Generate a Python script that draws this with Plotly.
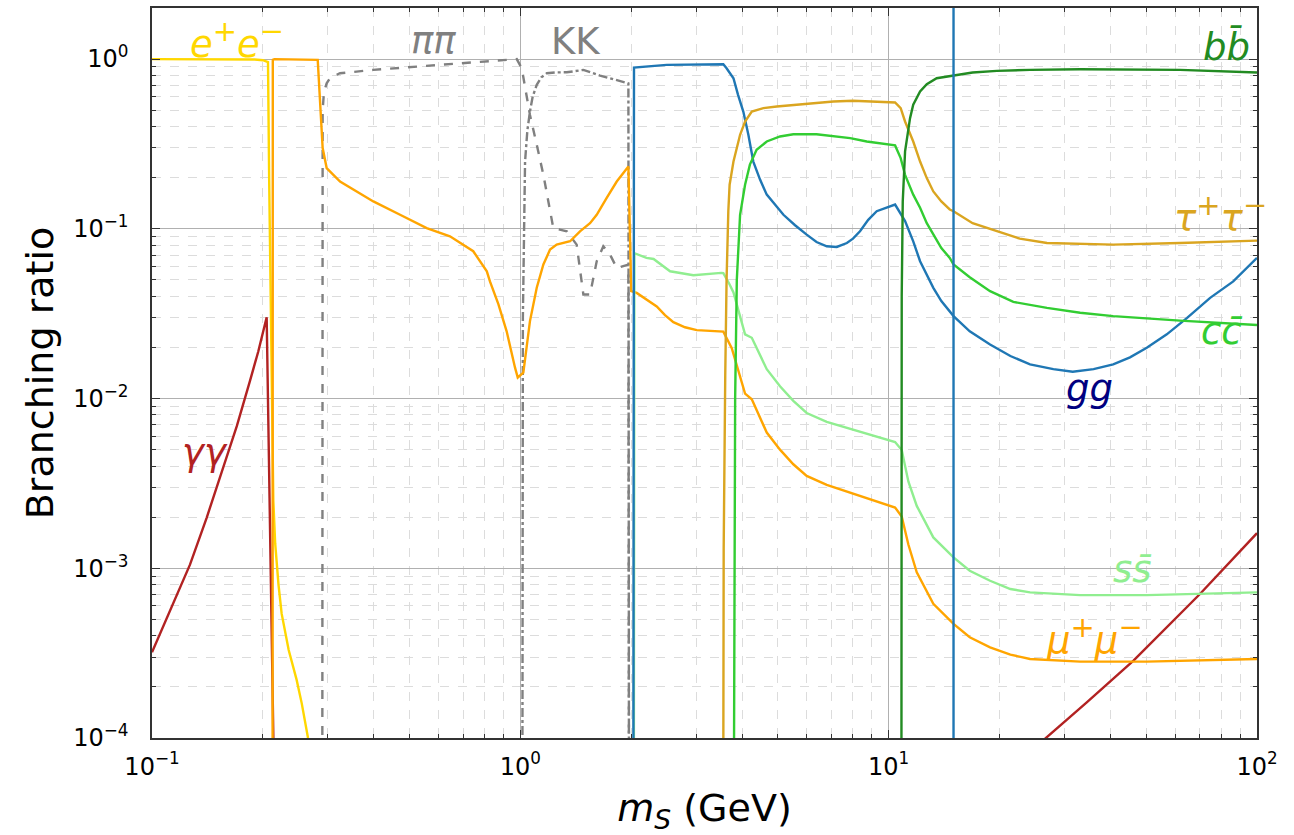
import numpy as np
import plotly.graph_objects as go

# ---------------- data ----------------
ee_x = [0.1, 0.15, 0.19, 0.200, 0.2065, 0.2080, 0.2100, 0.2120, 0.2135, 0.2160, 0.2185, 0.2205, 0.2249,
        0.230, 0.235, 0.247, 0.255, 0.2652, 0.28]
ee_y = [1.0, 1.0, 0.995, 0.985, 0.96, 0.2, 0.03, 0.008, 0.0025, 0.0014, 0.0010, 0.0008, 0.00054,
        0.00042, 0.00033, 0.00022, 0.00016, 0.0001, 0.00006]

mm_x = [0.2125, 0.2128, 0.215, 0.25, 0.2818, 0.2906, 0.298, 0.324, 0.3596, 0.399, 0.4715, 0.557, 0.644,
        0.745, 0.811, 0.827, 0.8717, 0.918, 0.9674, 0.984, 1.019, 1.04, 1.062, 1.108, 1.155, 1.204, 1.255,
        1.365, 1.452, 1.546, 1.612, 1.716, 1.827, 1.965, 2.0, 2.07, 2.346, 2.47, 2.603, 2.8, 3.013, 3.557,
        3.75, 4.075, 4.25, 4.667, 5.07, 5.51, 5.99, 6.79, 9.09, 10.41, 10.85, 11.31, 11.92, 13.22, 15.0,
        16.6, 18.85, 21.4, 24.2, 33.1, 50.2, 100]
mm_y = [5e-5, 0.99, 1.0, 1.0, 0.99, 0.299, 0.228, 0.190, 0.166, 0.145, 0.121, 0.101, 0.0903,
        0.0738, 0.0562, 0.049, 0.036, 0.0249, 0.0152, 0.0133, 0.0142, 0.020, 0.0286, 0.045, 0.0616, 0.0754,
        0.0807, 0.0845, 0.0967, 0.108, 0.121, 0.152, 0.19, 0.233, 0.043, 0.0419, 0.0349, 0.031, 0.0282,
        0.0263, 0.0253, 0.0248, 0.0198, 0.0107, 0.0099, 0.0063, 0.0050, 0.0041, 0.0035, 0.0031, 0.0025,
        0.00228, 0.00202, 0.00138, 0.000946, 0.000618, 0.00047, 0.000392, 0.000342, 0.00031, 0.000292,
        0.000282, 0.000282, 0.000292]

tt_x = [3.556, 3.565, 3.60, 3.63, 3.67, 3.70, 3.79, 3.95, 4.075, 4.25, 4.57, 4.97, 7.08, 8.0, 10.41, 10.78,
        11.08, 11.66, 12.17, 12.69, 13.22, 13.9, 14.65, 15.0, 16.9, 19.66, 22.7, 26.9, 40.7, 61.8, 100]
tt_y = [5e-5, 1.3e-3, 0.0136, 0.05, 0.127, 0.182, 0.249, 0.358, 0.429, 0.491, 0.514, 0.526, 0.562, 0.568,
        0.555, 0.514, 0.429, 0.327, 0.249, 0.199, 0.166, 0.145, 0.13, 0.127, 0.108, 0.0967, 0.0875,
        0.0825, 0.0807, 0.0825, 0.0852]

cc_x = [3.80, 3.81, 3.83, 3.87, 3.95, 4.075, 4.2, 4.38, 4.667, 5.07, 5.51, 6.37, 7.86, 8.72, 10.41, 10.78,
        11.08, 11.66, 12.17, 12.69, 13.22, 13.9, 14.65, 15.0, 16.6, 18.85, 21.8, 26.9, 33.1, 40.7, 61.8, 100]
cc_y = [5e-5, 1e-3, 0.01, 0.05, 0.121, 0.182, 0.239, 0.292, 0.327, 0.35, 0.361, 0.361, 0.342, 0.327, 0.31,
        0.261, 0.208, 0.159, 0.133, 0.108, 0.0924, 0.0771, 0.0674, 0.0616, 0.0519, 0.0429, 0.0371, 0.0342,
        0.032, 0.0306, 0.0288, 0.0271]

bb_x = [10.83, 10.85, 10.92, 11.08, 11.43, 11.66, 12.17, 12.69, 13.5, 15.0, 16.9, 19.66, 24.2, 33.1, 61.8, 100]
bb_y = [5e-5, 0.04, 0.145, 0.286, 0.449, 0.538, 0.644, 0.711, 0.771, 0.80, 0.833, 0.852, 0.864, 0.871,
        0.864, 0.833]

gg_x = [2.027, 2.035, 2.497, 3.07, 3.557, 3.63, 3.70, 3.79, 3.90, 4.03, 4.16, 4.29, 4.475, 4.667, 5.18,
        5.57, 5.99, 6.37, 6.79, 7.23, 7.7, 8.0, 8.36, 8.8, 9.28, 9.88, 10.41, 11.08, 11.66, 12.17, 12.69,
        13.22, 13.9, 14.65, 15.0, 16.6, 18.85, 21.4, 24.2, 28.0, 31.6, 36.0, 40.7, 45.2, 50.2, 56.9, 64.6,
        74.6, 86.2, 100]
gg_y = [5e-5, 0.891, 0.924, 0.932, 0.932, 0.883, 0.825, 0.771, 0.616, 0.491, 0.358, 0.249, 0.195, 0.159,
        0.121, 0.105, 0.0924, 0.0836, 0.0789, 0.0782, 0.0825, 0.0875, 0.0967, 0.113, 0.127, 0.134, 0.139,
        0.111, 0.0844, 0.0644, 0.0538, 0.0449, 0.0375, 0.0327, 0.0306, 0.0249, 0.0208, 0.0178, 0.0159,
        0.0149, 0.0144, 0.0149, 0.0159, 0.0175, 0.0199, 0.0239, 0.0299, 0.0392, 0.049, 0.0674]

ss_x = [2.033, 2.04, 2.2, 2.3, 2.55, 2.95, 3.51, 3.557, 3.7, 3.79, 4.075, 4.25, 4.667, 5.07, 5.51, 5.99,
        6.79, 9.09, 10.41, 10.85, 11.31, 11.92, 13.22, 15.0, 16.6, 18.85, 21.4, 24.2, 33.1, 50.2, 100]
ss_y = [5e-5, 0.0719, 0.0674, 0.0664, 0.0562, 0.0533, 0.055, 0.0548, 0.047, 0.0422, 0.0239, 0.0228,
        0.0149, 0.0118, 0.00969, 0.00822, 0.00729, 0.00603, 0.00554, 0.00498, 0.00325, 0.00233, 0.00152,
        0.00116, 0.000967, 0.000844, 0.000755, 0.000721, 0.000695, 0.000695, 0.000721]

pipi_x = [0.2900, 0.2906, 0.293, 0.298, 0.305, 0.324, 0.399, 0.605, 0.978, 1.009, 1.035, 1.062, 1.108,
          1.155, 1.229, 1.337, 1.422, 1.483, 1.546, 1.612, 1.68, 1.752, 1.827, 1.965, 1.972]
pipi_y = [5e-5, 0.5, 0.64, 0.72, 0.78, 0.825, 0.864, 0.924, 1.0, 0.883, 0.65, 0.469, 0.313,
          0.208, 0.101, 0.0967, 0.0807, 0.041, 0.041, 0.0644, 0.0789, 0.0705, 0.0588, 0.0616, 5e-5]

kk_x = [1.013, 1.016, 1.03, 1.045, 1.062, 1.08, 1.108, 1.14, 1.18, 1.25, 1.337, 1.483, 1.646, 1.965, 1.972]
kk_y = [5e-5, 0.03, 0.249, 0.38, 0.491, 0.60, 0.705, 0.78, 0.825, 0.835, 0.836, 0.864, 0.80, 0.72, 5e-5]

gam_lo_x = [0.1, 0.1051, 0.1142, 0.1268, 0.1408, 0.1562, 0.170, 0.1845, 0.1944, 0.2048, 0.2137]
gam_lo_y = [3.2e-4, 4.1e-4, 6.2e-4, 1.05e-3, 1.99e-3, 3.92e-3, 6.9e-3, 0.0127, 0.0190, 0.0301, 9e-5]
gam_hi_x = [26.0, 34.5, 46.2, 70.0, 100]
gam_hi_y = [9.5e-5, 1.62e-4, 2.86e-4, 7.05e-4, 1.61e-3]

ref_mass = 15.0

x_ticks = [0.1, 1, 10, 100]
x_ticktext = ["10<sup>−1</sup>", "10<sup>0</sup>", "10<sup>1</sup>", "10<sup>2</sup>"]
y_ticks = [1e-4, 1e-3, 1e-2, 1e-1, 1]
y_ticktext = ["10<sup>−4</sup>", "10<sup>−3</sup>", "10<sup>−2</sup>", "10<sup>−1</sup>", "10<sup>0</sup>"]


def sup(s):
    return "<sup><span style='font-size:29px'>" + s + "</span></sup>"


labels = [
    ("<i>e</i>" + sup("+") + "<i>e</i>" + sup("−"), 0.170, 1.30, "#FFD700"),
    ("<i>ππ</i>", 0.58, 1.28, "#808080"),
    ("KK", 1.417, 1.27, "#808080"),
    ("<i>bb̄</i>", 82.5, 1.18, "#228B22"),
    ("<i>τ</i>" + sup("+") + "<i>τ</i>" + sup("−"), 79.4, 0.122, "#DAA520"),
    ("<i>cc̄</i>", 80.4, 0.025, "#32CD32"),
    ("<i>gg</i>", 35.2, 0.0114, "#000080"),
    ("<i>ss̄</i>", 46.0, 9.9e-4, "#90EE90"),
    ("<i>μ</i>" + sup("+") + "<i>μ</i>" + sup("−"), 36.1, 4.0e-4, "#FFA500"),
    ("<i>γγ</i>", 0.139, 4.78e-3, "#B22222"),
]

# ---------------- figure ----------------
FONT = "DejaVu Sans"
fig = go.Figure()

series = [
    (pipi_x, pipi_y, "#808080", "dash"),
    (kk_x, kk_y, "#808080", "dashdot"),
    (gam_lo_x, gam_lo_y, "#B22222", "solid"),
    (gam_hi_x, gam_hi_y, "#B22222", "solid"),
    (ee_x, ee_y, "#FFD700", "solid"),
    (mm_x, mm_y, "#FFA500", "solid"),
    (ss_x, ss_y, "#90EE90", "solid"),
    (gg_x, gg_y, "#1f77b4", "solid"),
    (tt_x, tt_y, "#DAA520", "solid"),
    (cc_x, cc_y, "#32CD32", "solid"),
    (bb_x, bb_y, "#228B22", "solid"),
]
for xs, ys, col, dash in series:
    fig.add_trace(go.Scatter(x=xs, y=ys, mode="lines",
                             line=dict(color=col, width=2.4, dash=dash),
                             showlegend=False, hoverinfo="skip"))

fig.add_shape(type="line", xref="x", yref="paper", x0=ref_mass, x1=ref_mass, y0=0, y1=1,
              line=dict(color="#1f77b4", width=2.4))

for txt, lx, ly, col in labels:
    fig.add_annotation(x=np.log10(lx), y=np.log10(ly), xref="x", yref="y", text=txt,
                       showarrow=False, xanchor="center", yanchor="middle",
                       font=dict(family=FONT, size=37, color=col))

minor_x = [m * 10.0 ** e for e in range(-1, 2) for m in range(2, 10)]
minor_y = [m * 10.0 ** e for e in range(-4, 1) for m in range(2, 10)]

axis_common = dict(
    type="log", showline=True, linecolor="#333333", linewidth=1.5, mirror="allticks",
    ticks="inside", ticklen=8, tickwidth=1.2, tickcolor="#333333",
    showgrid=True, gridcolor="#b0b0b0", gridwidth=1,
    tickfont=dict(family=FONT, size=24, color="black"),
    zeroline=False,
)

fig.update_xaxes(**axis_common, range=[-1, 2], tickmode="array", tickvals=x_ticks, ticktext=x_ticktext,
                 ticklabelstandoff=6,
                 minor=dict(tickmode="array", tickvals=minor_x, ticks="inside", ticklen=4,
                            tickcolor="#333333", showgrid=True, gridcolor="#dcdcdc", griddash="dash",
                            gridwidth=1),
                 title=dict(text="<i>m<sub>S</sub></i> (GeV)", font=dict(family=FONT, size=38, color="black"),
                            standoff=16))
fig.update_yaxes(**axis_common, range=[-4, np.log10(2.0)], tickmode="array", tickvals=y_ticks,
                 ticktext=y_ticktext, ticklabelstandoff=17,
                 minor=dict(tickmode="array", tickvals=minor_y, ticks="inside", ticklen=4,
                            tickcolor="#333333", showgrid=True, gridcolor="#dcdcdc", griddash="dash",
                            gridwidth=1),
                 title=dict(text="Branching ratio", font=dict(family=FONT, size=38, color="black"),
                            standoff=8))

fig.update_layout(width=1294, height=835, margin=dict(l=152, r=37, t=6, b=97),
                  paper_bgcolor="white", plot_bgcolor="white",
                  font=dict(family=FONT))

fig.write_html("out.html", config={"displayModeBar": False},
               post_script="document.body.style.margin='0px';")
